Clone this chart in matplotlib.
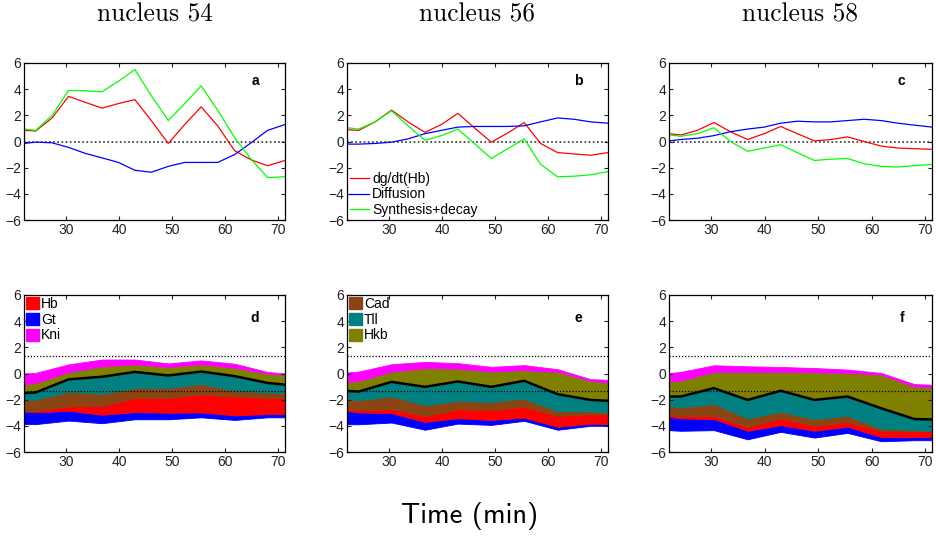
import numpy as np
import matplotlib
matplotlib.use("Agg")
import matplotlib.pyplot as plt
from matplotlib.patches import Patch

# ---------------- data ----------------
titles = ["nucleus 54", "nucleus 56", "nucleus 58"]
top_letters = ["a", "b", "c"]
bot_letters = ["d", "e", "f"]
line_labels = ["dg/dt(Hb)", "Diffusion", "Synthesis+decay"]

t_top = [22.1, 24.3, 27.4, 30.5, 33.6, 36.8, 39.9, 43.0, 46.1, 49.3, 52.4, 55.5, 58.6, 61.8, 64.9, 68.0, 71.3]

a_dg = [0.85, 0.8, 1.8, 3.45, 3.0, 2.55, 2.9, 3.2, 1.6, -0.15, 1.3, 2.65, 1.2, -0.7, -1.4, -1.85, -1.45]
a_diff = [-0.15, -0.05, -0.1, -0.45, -0.9, -1.25, -1.6, -2.2, -2.35, -1.9, -1.6, -1.6, -1.6, -1.0, -0.1, 0.85, 1.3]
a_syn = [0.95, 0.85, 2.0, 3.9, 3.88, 3.8, 4.6, 5.5, 3.5, 1.6, 2.9, 4.25, 2.4, 0.3, -1.35, -2.75, -2.7]

b_dg = [0.9, 0.85, 1.5, 2.4, 1.5, 0.7, 1.3, 2.15, 1.05, -0.05, 0.65, 1.45, -0.15, -0.85, -0.95, -1.05, -0.85]
b_diff = [-0.2, -0.2, -0.15, -0.05, 0.2, 0.6, 0.85, 1.1, 1.15, 1.15, 1.15, 1.2, 1.5, 1.8, 1.7, 1.5, 1.4]
b_syn = [1.05, 0.95, 1.5, 2.35, 1.2, 0.1, 0.45, 0.95, -0.15, -1.3, -0.55, 0.2, -1.75, -2.7, -2.65, -2.55, -2.3]

c_dg = [0.6, 0.5, 0.85, 1.45, 0.75, 0.15, 0.6, 1.15, 0.6, 0.05, 0.15, 0.35, 0.0, -0.35, -0.5, -0.55, -0.6]
c_diff = [0.05, 0.15, 0.25, 0.45, 0.75, 0.95, 1.1, 1.4, 1.55, 1.5, 1.5, 1.6, 1.7, 1.6, 1.4, 1.25, 1.1]
c_syn = [0.5, 0.4, 0.6, 1.05, 0.0, -0.75, -0.5, -0.25, -0.85, -1.45, -1.35, -1.3, -1.7, -1.9, -1.95, -1.85, -1.75]

t_bot = [22.1, 24.3, 30.5, 36.8, 43.0, 49.3, 55.5, 61.8, 68.0, 71.3]
gene_names = ["Gt", "Hb", "Cad", "Tll", "Hkb", "Kni"]
# lower edge of the stack and upper edge of each gene layer
d_base = [-3.87, -3.87, -3.6, -3.8, -3.5, -3.5, -3.35, -3.55, -3.35, -3.35]
d_gt = [-2.9, -2.97, -2.85, -3.15, -2.95, -3.0, -2.97, -3.2, -3.1, -3.1]
d_hb = [-2.85, -2.85, -2.5, -2.5, -1.87, -1.87, -1.6, -1.75, -1.87, -1.9]
d_cad = [-2.0, -2.0, -1.4, -1.55, -1.1, -1.1, -0.8, -1.3, -1.45, -1.5]
d_tll = [-1.5, -1.45, -0.45, -0.25, 0.12, -0.15, 0.15, -0.2, -0.72, -0.85]
d_hkb = [-0.85, -0.72, 0.12, 0.55, 0.7, 0.5, 0.7, 0.45, 0.0, -0.1]
d_kni = [0.0, 0.05, 0.7, 1.07, 1.07, 0.77, 1.0, 0.75, 0.12, 0.0]

e_base = [-3.88, -3.88, -3.75, -4.3, -3.83, -3.93, -3.62, -4.3, -4.0, -4.0]
e_gt = [-2.86, -2.98, -3.03, -3.7, -3.42, -3.55, -3.37, -4.08, -3.83, -3.88]
e_hb = [-2.73, -2.8, -2.73, -3.24, -2.73, -2.8, -2.55, -3.24, -3.1, -3.1]
e_cad = [-1.96, -2.04, -1.76, -2.42, -2.09, -2.17, -1.91, -2.86, -2.9, -2.98]
e_tll = [-1.33, -1.38, -0.64, -1.02, -0.61, -1.02, -0.56, -1.58, -2.02, -2.09]
e_hkb = [-0.64, -0.56, 0.15, 0.41, 0.38, 0.15, 0.26, 0.13, -0.56, -0.69]
e_kni = [0.08, 0.15, 0.71, 0.89, 0.79, 0.51, 0.64, 0.33, -0.43, -0.48]

f_base = [-4.33, -4.38, -4.33, -5.03, -4.46, -4.9, -4.54, -5.18, -5.1, -5.1]
f_gt = [-3.3, -3.43, -3.48, -4.38, -3.95, -4.38, -4.07, -4.85, -4.85, -4.85]
f_hb = [-3.17, -3.25, -3.25, -4.07, -3.43, -4.0, -3.69, -4.41, -4.38, -4.38]
f_cad = [-2.48, -2.58, -2.33, -3.43, -2.92, -3.48, -3.23, -4.2, -4.33, -4.38]
f_tll = [-1.76, -1.76, -1.12, -2.02, -1.32, -2.02, -1.76, -2.66, -3.48, -3.51]
f_hkb = [-0.6, -0.53, 0.12, 0.12, 0.12, 0.09, 0.04, -0.09, -0.99, -1.04]
f_kni = [0.04, 0.12, 0.63, 0.55, 0.5, 0.42, 0.3, 0.04, -0.81, -0.86]

thresholds = [1.35, -1.32]
x_ticks = [30, 40, 50, 60, 70]
y_ticks = [-6, -4, -2, 0, 2, 4, 6]

# ---------------- style ----------------
line_colors = ["#ff0000", "#0000ff", "#00ff00"]
gene_colors = ["#0000ff", "#ff0000", "#8b4513", "#008080", "#808000", "#ff00ff"]

plt.rcParams["font.family"] = ["Liberation Sans", "DejaVu Sans"]
plt.rcParams["axes.unicode_minus"] = True

W, H = 937, 537
fig = plt.figure(figsize=(W / 100, H / 100), dpi=100)

lefts = [24, 347, 669]
widths = [261, 261, 263]
top_row = (63, 220)
bot_row = (295, 452)
FS = 10


def make_ax(i, row):
    t, b = row
    return fig.add_axes([lefts[i] / W, 1 - b / H, widths[i] / W, (b - t) / H])


def style(ax):
    ax.set_xlim(t_top[0], t_top[-1])
    ax.set_ylim(-6, 6)
    ax.set_xticks(x_ticks)
    ax.set_yticks(y_ticks)
    ax.tick_params(direction="in", length=3, width=0.8, top=True, right=True,
                   labelsize=FS, pad=2, colors="#222222", labelcolor="#222222")
    for s in ax.spines.values():
        s.set_linewidth(0.9)
        s.set_color("black")


top_data = [(a_dg, a_diff, a_syn), (b_dg, b_diff, b_syn), (c_dg, c_diff, c_syn)]
bot_data = [
    (d_base, d_gt, d_hb, d_cad, d_tll, d_hkb, d_kni),
    (e_base, e_gt, e_hb, e_cad, e_tll, e_hkb, e_kni),
    (f_base, f_gt, f_hb, f_cad, f_tll, f_hkb, f_kni),
]

for i in range(3):
    ax = make_ax(i, top_row)
    ax.axhline(0, color="#333333", ls=(0, (1, 1.5)), lw=1.2, zorder=1)
    for series, col, lab in zip(top_data[i], line_colors, line_labels):
        ax.plot(t_top, series, color=col, lw=0.9, label=lab, zorder=2)
    style(ax)
    ax.text(0.885, 0.885, top_letters[i], transform=ax.transAxes, ha="center",
            va="center", fontsize=10, fontweight="bold")
    if i == 1:
        ax.legend(loc="lower left", bbox_to_anchor=(0.0, 0.0), frameon=False,
                  fontsize=FS, handlelength=1.35, handletextpad=0.2,
                  labelspacing=0.08, borderpad=0.25, borderaxespad=0)
    fig.text((lefts[i] + widths[i] / 2) / W, 1 - 15 / H, titles[i],
             family="cmr10", fontsize=18.3, ha="center", va="center")

for i in range(3):
    ax = make_ax(i, bot_row)
    bounds = [np.asarray(v) for v in bot_data[i]]
    for k in range(6):
        ax.fill_between(t_bot, bounds[k], bounds[k + 1], color=gene_colors[k],
                        lw=0.6, edgecolor=gene_colors[k], zorder=1)
    ax.plot(t_bot, bounds[4], color="black", lw=1.8, zorder=3)
    for th in thresholds:
        ax.axhline(th, color="black", ls=(0, (1, 1.5)), lw=0.9, zorder=4)
    style(ax)
    ax.text(0.885, 0.855, bot_letters[i], transform=ax.transAxes, ha="center",
            va="center", fontsize=10, fontweight="bold")
    if i < 2:
        idx = [1, 0, 5] if i == 0 else [2, 3, 4]
        handles = [Patch(facecolor=gene_colors[k], edgecolor=gene_colors[k])
                   for k in idx]
        ax.legend(handles, [gene_names[k] for k in idx], loc="upper left",
                  bbox_to_anchor=(0.0, 1.0), frameon=False, fontsize=FS,
                  handlelength=0.95, handleheight=0.95, handletextpad=0.12,
                  labelspacing=0.12, borderpad=0.15, borderaxespad=0)

fig.text(470 / W, 1 - 516 / H, "Time (min)", family="cmss10", fontsize=20.5,
         ha="center", va="center")

fig.savefig("out.png", dpi=100)
